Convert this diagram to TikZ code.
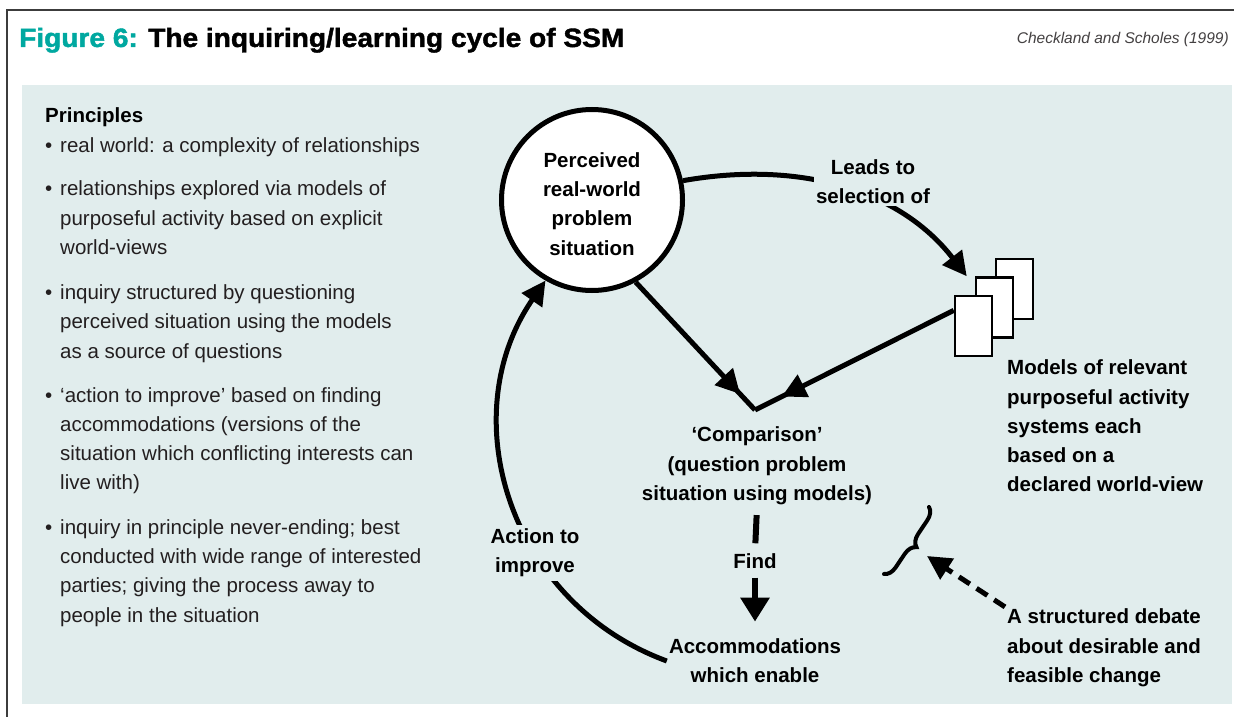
\documentclass[tikz,border=0pt]{standalone}
\usepackage{fontspec}
\setmainfont{Liberation Sans}
\newfontfamily\titlefont[FakeStretch=1.06,FakeBold=1.6]{Liberation Sans}
\usetikzlibrary{arrows.meta,decorations.pathreplacing,decorations.markings,calc}
\definecolor{bg}{RGB}{225,237,237}
\definecolor{teal6}{RGB}{0,168,160}
\definecolor{txt}{RGB}{35,31,32}
\definecolor{framec}{RGB}{60,60,60}
\begin{document}
\begin{tikzpicture}[x=1pt,y=-1pt,
  lbl/.style={font=\fontsize{20.5}{29.3}\selectfont\bfseries, align=center, inner sep=2pt, text=black},
  body/.style={font=\fontsize{20.5}{29.3}\selectfont, anchor=base west, inner sep=0pt, text=txt},
  conn/.style={line width=5pt},
  tip/.style={-{Triangle[length=24pt,width=24pt]}},
  page/.style={draw, line width=2.5pt, fill=white, minimum width=37pt, minimum height=60pt, inner sep=0pt},
  arrowat/.style={postaction={decorate}, decoration={markings,
     mark=at position #1 with {\arrow{Triangle[length=24pt,width=24pt]}}}},
]
\useasboundingbox (0,0) rectangle (1234,717);
\fill[white] (0,0) rectangle (1234,717);
\draw[framec, line width=1.5pt] (7,717) -- (7,10) -- (1234,10);
\fill[bg] (22,85) rectangle (1232,704);

% title and citation
\node[anchor=base west, inner sep=0pt, font=\titlefont\fontsize{26.5}{30}\selectfont\bfseries] (title) at (19,47)
  {\textcolor{teal6}{Figure 6:} The inquiring/learning cycle of SSM};
\node[anchor=base east, inner sep=0pt, font=\fontsize{15.5}{18}\selectfont\itshape, text=txt!85] (cite) at (1229,44)
  {Checkland and Scholes (1999)};

% principles
\node[body, font=\fontsize{20.5}{29.3}\selectfont\bfseries, text=black] (ph) at (45,122) {Principles};
\foreach \yy [count=\i] in {152,195,299,402,534}
  \node[body] (b\i) at (45,\yy) {•};
\foreach \yy/\tt [count=\i] in {
  152/{real world: a complexity of relationships},
  195/{relationships explored via models of},
  225/{purposeful activity based on explicit},
  254/{world-views},
  299/{inquiry structured by questioning},
  328/{perceived situation using the models},
  358/{as a source of questions},
  402/{‘action to improve’ based on finding},
  431/{accommodations (versions of the},
  460/{situation which conflicting interests can},
  489/{live with)},
  534/{inquiry in principle never-ending; best},
  563/{conducted with wide range of interested},
  592/{parties; giving the process away to},
  622/{people in the situation}}
  \node[body] (L\i) at (60,\yy) {\tt};

% circle
\node[circle, draw, line width=5pt, fill=white, minimum size=181pt, inner sep=0pt] (pc) at (592,200) {};
\node[lbl] (pctext) at (592,204) {Perceived\\real-world\\problem\\situation};

% pages
\node[page] (r3) at (1014.5,289) {};
\node[page] (r2) at (994.5,307.5) {};
\node[page] (r1) at (973.5,326) {};

% leads to
\draw[conn, tip] (pc.12) .. controls (800,160) and (900,190) .. ([xshift=-8pt]r2.north west);
\node[lbl, fill=bg] (lead) at (873,182) {Leads to\\selection of};

% comparison
\coordinate (V) at (755,410);
\coordinate (mstart) at ($(r1.north west)!0.25!(r1.south west)$);
\draw[conn, arrowat=0.875] (pc.-62) -- (V);
\draw[conn, arrowat=0.865] (mstart) -- (V);
\node[lbl] (comp) at (757,466) {‘Comparison’\\(question problem\\situation using models)};

% find
\node[lbl] (find) at (755,561) {Find};
\node[lbl] (acc) at (755,661) {Accommodations\\which enable};
\draw[line width=6pt, shorten <=8pt, shorten >=8pt] (comp.south) -- (find.north);
\draw[line width=6pt, shorten <=7pt, shorten >=15pt, -{Triangle[length=24pt,width=28pt]}] (find.south) -- (acc.north);

% action to improve
\draw[conn, tip] (acc.west) .. controls (509,603) and (452,416) .. (pc.-120);
\node[lbl, fill=bg, inner sep=4pt] (act) at (535,553) {Action to\\improve};

% models text
\node[lbl, align=left, anchor=west] (mtext) at (1005,426)
  {Models of relevant\\purposeful activity\\systems each\\based on a\\declared world-view};

% debate
\node[lbl, align=left, anchor=west] (deb) at (1005,648)
  {A structured debate\\about desirable and\\feasible change};
\coordinate (bra) at (929,507);
\coordinate (brb) at (884,574);
\draw[line width=4pt, line cap=round, decorate, decoration={brace, amplitude=12pt}] (bra) -- (brb);
\coordinate (bt) at (927,556);
\draw[line width=5pt, dash pattern=on 13pt off 8pt, -{Triangle[length=24pt,width=24pt]}] (deb.north west) -- (bt);
\end{tikzpicture}
\end{document}
